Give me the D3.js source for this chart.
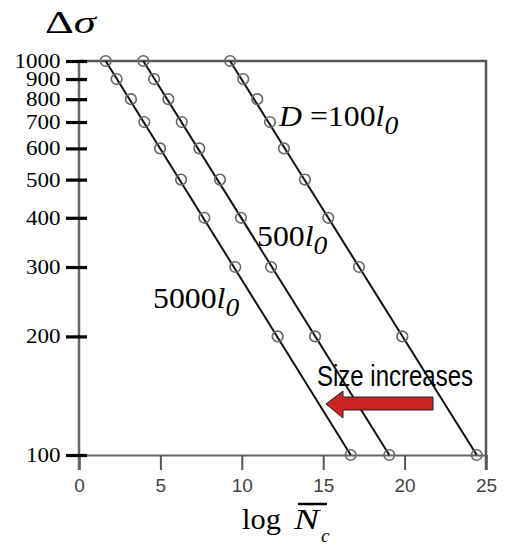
<!DOCTYPE html>
<html>
<head>
<meta charset="utf-8">
<script src="https://cdn.jsdelivr.net/npm/d3@7"></script>
<style>
  body { margin: 0; background: #fff; }
  svg { display: block; }
</style>
</head>
<body>
<script>
var width = 506, height = 548;

// stress levels (y) shared by all three series
var stressLevels = [1000, 900, 800, 700, 600, 500, 400, 300, 200, 100];
// log N_c for each grain size
var logN5000 = [1.64, 2.31, 3.19, 4.01, 4.98, 6.27, 7.70, 9.60, 12.2, 16.69];
var logN500 = [3.95, 4.61, 5.49, 6.31, 7.39, 8.66, 9.95, 11.8, 14.5, 19.06];
var logN100 = [9.28, 10.09, 10.95, 11.73, 12.59, 13.88, 15.31, 17.2, 19.86, 24.43];
var xTicks = [0, 5, 10, 15, 20, 25];
var yTicks = [100, 200, 300, 400, 500, 600, 700, 800, 900, 1000];

var x = d3.scaleLinear().domain([0, 25]).range([79, 486]);
var y = d3.scaleLog().domain([100, 1000]).range([455, 61]);

var svg = d3.select("body").append("svg")
  .attr("width", width)
  .attr("height", height);

var serif = "Liberation Serif, Times New Roman, serif";
var sans = "Liberation Sans, Arial, sans-serif";

// frame: top and right
svg.append("path")
  .attr("d", "M" + x(0) + "," + y(1000) + "H" + x(25) + "V" + (y(100) + 15))
  .attr("fill", "none")
  .attr("stroke", "#555")
  .attr("stroke-width", 2.5);

// x axis
var xAxis = svg.append("g")
  .attr("transform", "translate(0," + y(100) + ")")
  .call(d3.axisBottom(x).tickValues(xTicks).tickSize(15).tickPadding(9).tickFormat(d3.format("d")));
xAxis.select(".domain").attr("stroke", "#666").attr("stroke-width", 2);
xAxis.selectAll(".tick line").attr("stroke", "#555").attr("stroke-width", 2);
xAxis.selectAll(".tick text")
  .attr("fill", "#444")
  .style("font-family", sans)
  .style("font-size", "19px");

// y axis line
svg.append("line")
  .attr("x1", x(0)).attr("x2", x(0))
  .attr("y1", y(1000)).attr("y2", y(100) + 15)
  .attr("stroke", "#666")
  .attr("stroke-width", 2.5);

var yAxis = svg.append("g")
  .attr("transform", "translate(" + (x(0) + 8) + ",0)")
  .call(d3.axisLeft(y).tickValues(yTicks).tickSize(21).tickPadding(5).tickFormat(d3.format("d")));
yAxis.select(".domain").remove();
yAxis.selectAll(".tick line").attr("stroke", "#000").attr("stroke-width", 3.2);
yAxis.selectAll(".tick text")
  .attr("fill", "#000")
  .attr("x", -23)
  .attr("transform", "scale(1.15,1)")
  .style("font-family", serif)
  .style("font-size", "20px");

// series
var series = [
  {name: "100", xs: logN100},
  {name: "500", xs: logN500},
  {name: "5000", xs: logN5000}
];

var line = d3.line()
  .x(function(d){ return x(d[0]); })
  .y(function(d){ return y(d[1]); });

series.forEach(function(s){
  var pts = s.xs.map(function(v, i){ return [v, stressLevels[i]]; });
  // straight fit line in log space (ends at first and last points)
  svg.append("path")
    .datum([pts[0], pts[pts.length - 1]])
    .attr("d", line)
    .attr("fill", "none")
    .attr("stroke", "#111")
    .attr("stroke-width", 2);
  svg.append("g").selectAll("circle")
    .data(pts)
    .enter()
    .append("circle")
    .attr("cx", function(d){ return x(d[0]); })
    .attr("cy", function(d){ return y(d[1]); })
    .attr("r", 5.3)
    .attr("fill", "none")
    .attr("stroke", "#666")
    .attr("stroke-width", 1.6);
});

// series labels
function sizeLabel(px, py, prefix, num){
  var t = svg.append("text")
    .attr("transform", "translate(" + px + "," + py + ") scale(1.06,1)")
    .style("font-family", serif)
    .style("font-size", "30px");
  if (prefix) {
    t.append("tspan").style("font-style", "italic").text("D");
    t.append("tspan").text(" =");
  }
  t.append("tspan").text(num);
  t.append("tspan").style("font-style", "italic").text("l");
  t.append("tspan").attr("dy", 8).style("font-style", "italic").style("font-size", "26px").text("0");
}
sizeLabel(279, 126, true, "100");
sizeLabel(257, 246, false, "500");
sizeLabel(153, 308, false, "5000");

// Δσ title
var title = svg.append("text")
  .attr("transform", "translate(45,33) scale(1.4,1)")
  .style("font-family", serif)
  .style("font-size", "32px");
title.append("tspan").text("\u0394");
title.append("tspan").style("font-style", "italic").text("\u03c3");

// x label
svg.append("text")
  .attr("transform", "translate(242,529) scale(1.05,1)")
  .style("font-family", serif)
  .style("font-size", "29px")
  .text("log");
svg.append("text")
  .attr("transform", "translate(294,529) scale(1.3,1)")
  .style("font-family", serif)
  .style("font-style", "italic")
  .style("font-size", "29px")
  .text("N");
svg.append("text")
  .attr("x", 321).attr("y", 542)
  .style("font-family", serif)
  .style("font-style", "italic")
  .style("font-size", "19px")
  .text("c");
svg.append("line")
  .attr("x1", 298).attr("x2", 327)
  .attr("y1", 504).attr("y2", 504)
  .attr("stroke", "#000")
  .attr("stroke-width", 2.5);

// arrow annotation
svg.append("text")
  .attr("transform", "translate(317,386) scale(1,1.25)")
  .style("font-family", sans)
  .style("font-size", "24px")
  .attr("fill", "#000")
  .text("Size increases");

svg.append("path")
  .attr("d", "M326,404 L343,391 L343,397 L433,397 L433,410 L343,410 L343,418 Z")
  .attr("fill", "#cc2222")
  .attr("stroke", "#222")
  .attr("stroke-width", 1);
</script>
</body>
</html>
